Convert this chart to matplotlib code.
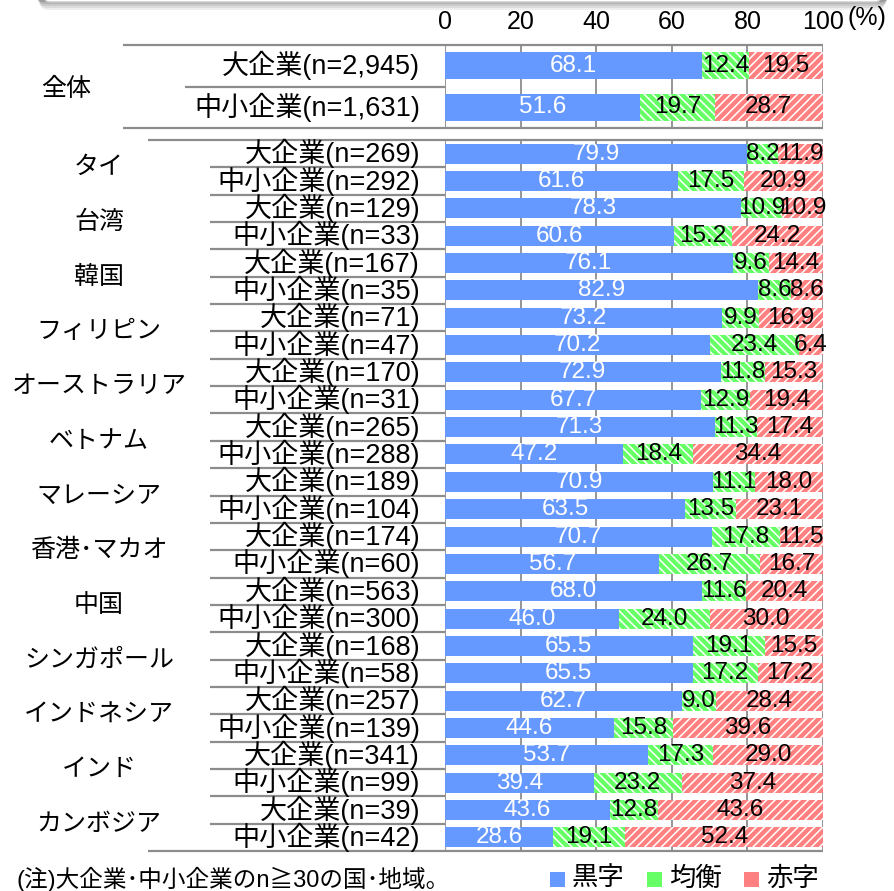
import matplotlib.pyplot as plt
from matplotlib.patches import FancyBboxPatch, Rectangle

plt.rcParams['font.family'] = ['Liberation Sans', 'Noto Sans CJK JP', 'DejaVu Sans']
plt.rcParams['hatch.linewidth'] = 1.1

# 全体
total_labels = ['大企業(n=2,945)', '中小企業(n=1,631)']
total_profit = [68.1, 51.6]
total_even = [12.4, 19.7]
total_loss = [19.5, 28.7]

# 国・地域別
countries = ['タイ', '台湾', '韓国', 'フィリピン', 'オーストラリア', 'ベトナム', 'マレーシア',
             '香港･マカオ', '中国', 'シンガポール', 'インドネシア', 'インド', 'カンボジア']
large_n = [269, 129, 167, 71, 170, 265, 189, 174, 563, 168, 257, 341, 39]
sme_n = [292, 33, 35, 47, 31, 288, 104, 60, 300, 58, 139, 99, 42]
large_profit = [79.9, 78.3, 76.1, 73.2, 72.9, 71.3, 70.9, 70.7, 68.0, 65.5, 62.7, 53.7, 43.6]
large_even = [8.2, 10.9, 9.6, 9.9, 11.8, 11.3, 11.1, 17.8, 11.6, 19.1, 9.0, 17.3, 12.8]
large_loss = [11.9, 10.9, 14.4, 16.9, 15.3, 17.4, 18.0, 11.5, 20.4, 15.5, 28.4, 29.0, 43.6]
sme_profit = [61.6, 60.6, 82.9, 70.2, 67.7, 47.2, 63.5, 56.7, 46.0, 65.5, 44.6, 39.4, 28.6]
sme_even = [17.5, 15.2, 8.6, 23.4, 12.9, 18.4, 13.5, 26.7, 24.0, 17.2, 15.8, 23.2, 19.1]
sme_loss = [20.9, 24.2, 8.6, 6.4, 19.4, 34.4, 23.1, 16.7, 30.0, 17.2, 39.6, 37.4, 52.4]

ticks = [0, 20, 40, 60, 80, 100]
legend_names = ['黒字', '均衡', '赤字']

BLUE = '#6699ff'
GREEN = '#66ff66'
RED = '#ff8080'
LINE = '#8c8c8c'
styles = [dict(color=BLUE), dict(color=GREEN, edgecolor='white', hatch='\\\\\\\\'),
          dict(color=RED, edgecolor='white', hatch='////')]
label_colors = ['white', 'black', 'black']

W, H = 894, 891
fig = plt.figure(figsize=(W / 100, H / 100), dpi=100)

# pixel frame for rules and labels
frame = fig.add_axes([0, 0, 1, 1])
frame.set_xlim(0, W)
frame.set_ylim(H, 0)
frame.axis('off')

x0, x1 = 445, 823
ax = fig.add_axes([x0 / W, 0, (x1 - x0) / W, 1])
ax.set_xlim(0, 100)
ax.set_ylim(H, 0)
ax.axis('off')
ax.patch.set_alpha(0)

# header box shadow at the very top
for k, a in enumerate([0.10, 0.12, 0.15, 0.2, 0.3]):
    frame.add_patch(FancyBboxPatch((40 - k, -60), 845 + 2 * k, 60 + 10 - 2 * k,
                                   boxstyle='round,pad=0,rounding_size=8',
                                   facecolor='#606060', edgecolor='none', alpha=a))
frame.add_patch(FancyBboxPatch((44, -60), 837, 62, boxstyle='round,pad=0,rounding_size=6',
                               facecolor='white', edgecolor='#c8c8c8', lw=1))

top_a, top_b = 45, 128
bot_a, bot_b = 140, 851

# vertical grid and borders
for t in ticks:
    ax.vlines(t, top_a, top_b, color=LINE, lw=1.3, zorder=0)
    ax.vlines(t, bot_a, bot_b, color=LINE, lw=1.3, zorder=0)
    ax.text(t, 22, str(t), ha='center', va='center', fontsize=18)
ax.text(111.5, 18, '(%)', ha='center', va='center', fontsize=18, clip_on=False)

# horizontal rules
for y, xs in [(top_a, 123), (top_b, 123), (bot_a, 148), (bot_b, 148)]:
    frame.hlines(y, xs, x1, color=LINE, lw=1.6)
frame.hlines((top_a + top_b) / 2, 185, x0, color=LINE, lw=1.6)

row_h = (bot_b - bot_a) / (2 * len(countries))
for r in range(1, 2 * len(countries)):
    frame.hlines(bot_a + r * row_h, 210, x0, color=LINE, lw=1.6)


def draw_row(y, values, height):
    left = 0
    for v, st, tc in zip(values, styles, label_colors):
        ax.barh(y, v, left=left, height=height, linewidth=0, zorder=2, **st)
        ax.text(left + v / 2, y, f'{v:.1f}', ha='center', va='center', color=tc,
                fontsize=17.5, zorder=4, clip_on=False)
        left += v


# 全体
top_h = (top_b - top_a) / 2
for i, lab in enumerate(total_labels):
    y = top_a + top_h * (i + 0.5)
    draw_row(y, [total_profit[i], total_even[i], total_loss[i]], 27)
    frame.text(420, y, lab, ha='right', va='center', fontsize=19.5)
frame.text(66, (top_a + top_b) / 2 + 3, '全体', ha='center', va='center', fontsize=18)

# countries
for i, name in enumerate(countries):
    ya = bot_a + row_h * (2 * i + 0.5)
    yb = bot_a + row_h * (2 * i + 1.5)
    draw_row(ya, [large_profit[i], large_even[i], large_loss[i]], 20)
    draw_row(yb, [sme_profit[i], sme_even[i], sme_loss[i]], 20)
    frame.text(420, ya, f'大企業(n={large_n[i]})', ha='right', va='center', fontsize=19.5)
    frame.text(420, yb, f'中小企業(n={sme_n[i]})', ha='right', va='center', fontsize=19.5)
    frame.text(99, bot_a + row_h * (2 * i + 1), name, ha='center', va='center', fontsize=18)

# footnote and legend
frame.text(16, 879, '(注)大企業･中小企業のn≧30の国･地域。', ha='left', va='center', fontsize=17)
for (sx, tx), st, name in zip([(550, 572), (647, 669), (744, 766)], styles, legend_names):
    frame.add_patch(Rectangle((sx, 872), 15, 15, linewidth=0, **st))
    frame.text(tx, 879, name, ha='left', va='center', fontsize=19)

fig.savefig('out.png', dpi=100)
